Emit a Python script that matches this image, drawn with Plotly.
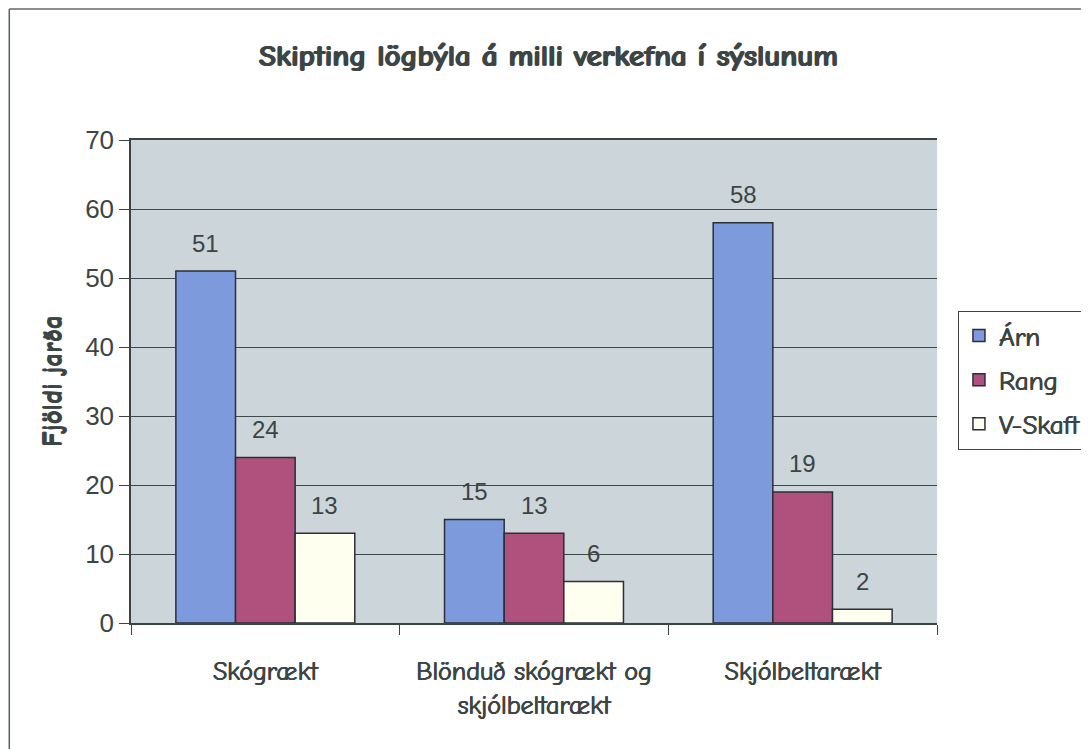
import plotly.graph_objects as go

categories = ["Skógrækt", "Blönduð skógrækt og<br>skjólbeltarækt", "Skjólbeltarækt"]
series_names = ["Árn", "Rang", "V-Skaft"]
arn = [51, 15, 58]
rang = [24, 13, 19]
vskaft = [13, 6, 2]
y_ticks = [0, 10, 20, 30, 40, 50, 60, 70]

colors = ["#7d9bdc", "#b0507d", "#fffff0"]
text_col = "#3c4444"
comic = "Comic Sans MS, Comic Neue, Lato, sans-serif"
arial = "Arial, Liberation Sans, sans-serif"
# the scan's Comic Sans is heavy; thicken the fallback face a little
heavy = "0.5px 0 0 #3c4444, -0.5px 0 0 #3c4444"

bargap = 0.334
bar_w = (1 - bargap) / 3
xs = list(range(len(categories)))

fig = go.Figure()
for k, (name, vals) in enumerate(zip(series_names, [arn, rang, vskaft])):
    off = -(1 - bargap) / 2 + k * bar_w
    fig.add_trace(go.Bar(
        x=xs, y=vals, name=name, width=bar_w, offset=off,
        marker=dict(color=colors[k], line=dict(color="#2a2e3a", width=1.5)),
        legendgroup=name,
    ))
    for i, v in enumerate(vals):
        fig.add_annotation(
            x=i + off + bar_w / 2, y=v, text=str(v), showarrow=False,
            yshift=28, font=dict(family=arial, size=24, color=text_col),
        )

fig.add_annotation(
    xref="paper", yref="paper", x=-0.119, y=0.5, text="<b>Fjöldi jarða</b>",
    textangle=-90, showarrow=False,
    font=dict(family=comic, size=27, color=text_col, shadow="0 0.6px 0 #3c4444, 0 -0.6px 0 #3c4444"),
)

# outer chart border (top and left edges visible in the scan)
fig.add_shape(type="line", xref="paper", yref="paper", x0=-0.151, x1=1.2, y0=1.271, y1=1.271,
              line=dict(color="#8a8f90", width=2))
fig.add_shape(type="line", xref="paper", yref="paper", x0=-0.151, x1=-0.151, y0=1.271, y1=-0.27,
              line=dict(color="#556060", width=1.5))

fig.update_layout(
    width=1081, height=741,
    margin=dict(l=123, r=152, t=132, b=126, autoexpand=False),
    paper_bgcolor="white", plot_bgcolor="#ccd6da",
    title=dict(text="<b>Skipting lögbýla á milli verkefna í sýslunum</b>",
               x=0.5, xref="container", y=1 - 47 / 741, yanchor="middle",
               font=dict(family=comic, size=31, color=text_col,
                         shadow="0.8px 0 0 #3c4444, -0.8px 0 0 #3c4444")),
    legend=dict(x=1.026, y=0.503, xanchor="left", yanchor="middle",
                bordercolor="#444", borderwidth=1, bgcolor="white",
                font=dict(family=comic, size=27, color=text_col, shadow=heavy),
                tracegroupgap=6, itemwidth=30),
    showlegend=True,
)
fig.update_xaxes(
    range=[-0.5, 2.5], tickvals=xs, ticktext=categories, ticks="", ticklabelstandoff=24,
    tickfont=dict(family=comic, size=26, color=text_col, shadow=heavy),
    showline=True, linecolor="#3a4444", linewidth=1.5, mirror=True,
    showgrid=False, zeroline=False,
    minor=dict(tickvals=[-0.5, 0.5, 1.5, 2.5], ticks="outside", ticklen=10,
               tickcolor="#3a4444", showgrid=False),
)
fig.update_yaxes(
    range=[0, 70], tickvals=y_ticks, ticks="outside", ticklen=10, tickcolor="#3a4444",
    tickfont=dict(family=arial, size=26, color=text_col),
    showline=True, linecolor="#3a4444", linewidth=1.5,
    showgrid=True, gridcolor="#3e4a4a", gridwidth=1, zeroline=False,
)

fig.write_html("out.html")
